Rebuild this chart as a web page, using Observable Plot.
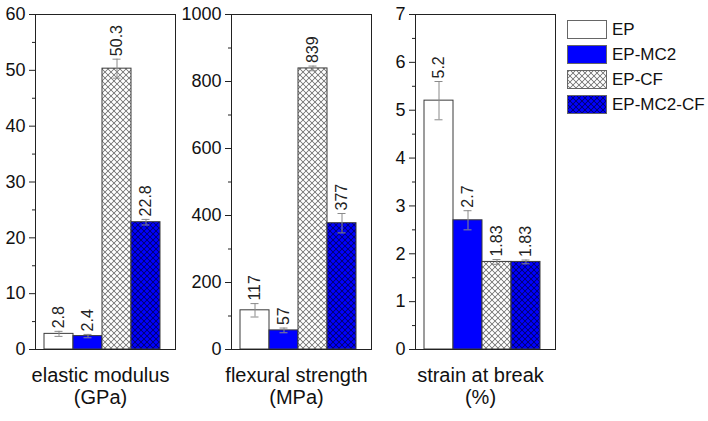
<!DOCTYPE html>
<html>
<head>
<meta charset="utf-8">
<script src="https://cdn.jsdelivr.net/npm/d3@7"></script>
<script src="https://cdn.jsdelivr.net/npm/@observablehq/plot@0.6"></script>
<style>
  html, body { margin: 0; padding: 0; background: #fff; }
  #chart { position: relative; width: 708px; height: 421px; font-family: "Liberation Sans", Arial, sans-serif; }
  #chart > svg.panel { position: absolute; top: 0; }
  #legend { position: absolute; left: 567px; top: 17px; }
  .row { display: flex; align-items: center; height: 25px; }
  .row svg { display: block; }
  .row span { font-size: 17px; color: #111; margin-left: 5px; line-height: 18px; }
</style>
</head>
<body>
<svg width="0" height="0" style="position:absolute">
  <defs>
    <pattern id="hatchW" patternUnits="userSpaceOnUse" width="4.243" height="4.243" patternTransform="rotate(45)">
      <rect width="4.243" height="4.243" fill="#ffffff"/>
      <path d="M0,2.12H4.243M2.12,0V4.243" stroke="#7a7a7a" stroke-width="0.8"/>
    </pattern>
    <pattern id="hatchB" patternUnits="userSpaceOnUse" width="4.243" height="4.243" patternTransform="rotate(45)">
      <rect width="4.243" height="4.243" fill="#0000ff"/>
      <path d="M0,2.12H4.243M2.12,0V4.243" stroke="#000070" stroke-width="0.8"/>
    </pattern>
  </defs>
</svg>
<div id="chart"><div id="legend"></div></div>
<script>
// ---- data ----
const series = ["EP", "EP-MC2", "EP-CF", "EP-MC2-CF"];
const fills = ["#ffffff", "#0000ff", "url(#hatchW)", "url(#hatchB)"];

const modulusValues = [2.8, 2.4, 50.3, 22.8];
const modulusErrors = [0.45, 0.3, 1.7, 0.5];
const modulusLabels = ["2.8", "2.4", "50.3", "22.8"];
const modulusTicks = [0, 10, 20, 30, 40, 50, 60];
const modulusMinor = [5, 15, 25, 35, 45, 55];

const strengthValues = [117, 57, 839, 377];
const strengthErrors = [20, 7, 7, 29];
const strengthLabels = ["117", "57", "839", "377"];
const strengthTicks = [0, 200, 400, 600, 800, 1000];
const strengthMinor = [100, 300, 500, 700, 900];

const strainValues = [5.2, 2.7, 1.83, 1.83];
const strainErrors = [0.4, 0.2, 0.05, 0.04];
const strainLabels = ["5.2", "2.7", "1.83", "1.83"];
const strainTicks = [0, 1, 2, 3, 4, 5, 6, 7];
const strainMinor = [0.5, 1.5, 2.5, 3.5, 4.5, 5.5, 6.5];

const panelTitles = ["elastic modulus\n(GPa)", "flexural strength\n(MPa)", "strain at break\n(%)"];

// ---- drawing ----
function panel(values, errors, labels, domain, ticks, minor, title, left, marginLeft) {
  const data = series.map((s, i) => ({series: s, v: values[i], e: errors[i], lab: labels[i]}));
  const frameW = 140;
  const svg = Plot.plot({
    width: marginLeft + frameW + 1,
    height: 421,
    marginLeft,
    marginRight: 1,
    marginTop: 14,
    marginBottom: 72,
    style: {fontFamily: "'Liberation Sans', Arial, sans-serif", background: "transparent", overflow: "visible", color: "#111"},
    x: {domain: series, padding: 0, insetLeft: 9, insetRight: 15, axis: null},
    y: {domain, label: null},
    color: {type: "ordinal", domain: series, range: fills},
    marks: [
      Plot.barY(data, {x: "series", y: "v", fill: "series", stroke: "#3a3a3a", strokeWidth: 1}),
      Plot.ruleX(data, {x: "series", y1: d => d.v - d.e, y2: d => d.v + d.e, stroke: "#8a8a8a", strokeWidth: 1}),
      Plot.tickY(data, {x: "series", y: d => d.v + d.e, stroke: "#8a8a8a", insetLeft: 10.5, insetRight: 10.5}),
      Plot.tickY(data, {x: "series", y: d => d.v - d.e, stroke: "#8a8a8a", insetLeft: 10.5, insetRight: 10.5}),
      Plot.text(data, {x: "series", y: d => d.v + d.e, text: "lab", rotate: -90, textAnchor: "start", dy: -3, fontSize: 16, fill: "#222"}),
      Plot.axisY(minor, {tickSize: 3, tickFormat: () => "", label: null, stroke: "#222"}),
      Plot.axisY(ticks, {tickSize: 6, tickPadding: 4, fontSize: 18, tickFormat: d => String(d), label: null, stroke: "#222", fill: "#111"}),
      Plot.frame({stroke: "#222"}),
      Plot.text([title], {frameAnchor: "bottom", lineAnchor: "top", dy: 17, dx: -5, fontSize: 20, lineHeight: 1.1, fill: "#111"})
    ]
  });
  svg.classList.add("panel");
  svg.style.left = left + "px";
  return svg;
}

const chart = document.getElementById("chart");
chart.appendChild(panel(modulusValues, modulusErrors, modulusLabels, [0, 60], modulusTicks, modulusMinor, panelTitles[0], 0, 35));
chart.appendChild(panel(strengthValues, strengthErrors, strengthLabels, [0, 1000], strengthTicks, strengthMinor, panelTitles[1], 180, 51));
chart.appendChild(panel(strainValues, strainErrors, strainLabels, [0, 7], strainTicks, strainMinor, panelTitles[2], 375, 40));

// legend
const legend = document.getElementById("legend");
series.forEach((s, i) => {
  const row = document.createElement("div");
  row.className = "row";
  row.innerHTML = `<svg width="40" height="20"><rect x="0.5" y="0.5" width="39" height="18" fill="${fills[i]}" stroke="#666"/></svg><span>${s}</span>`;
  legend.appendChild(row);
});
</script>
</body>
</html>
